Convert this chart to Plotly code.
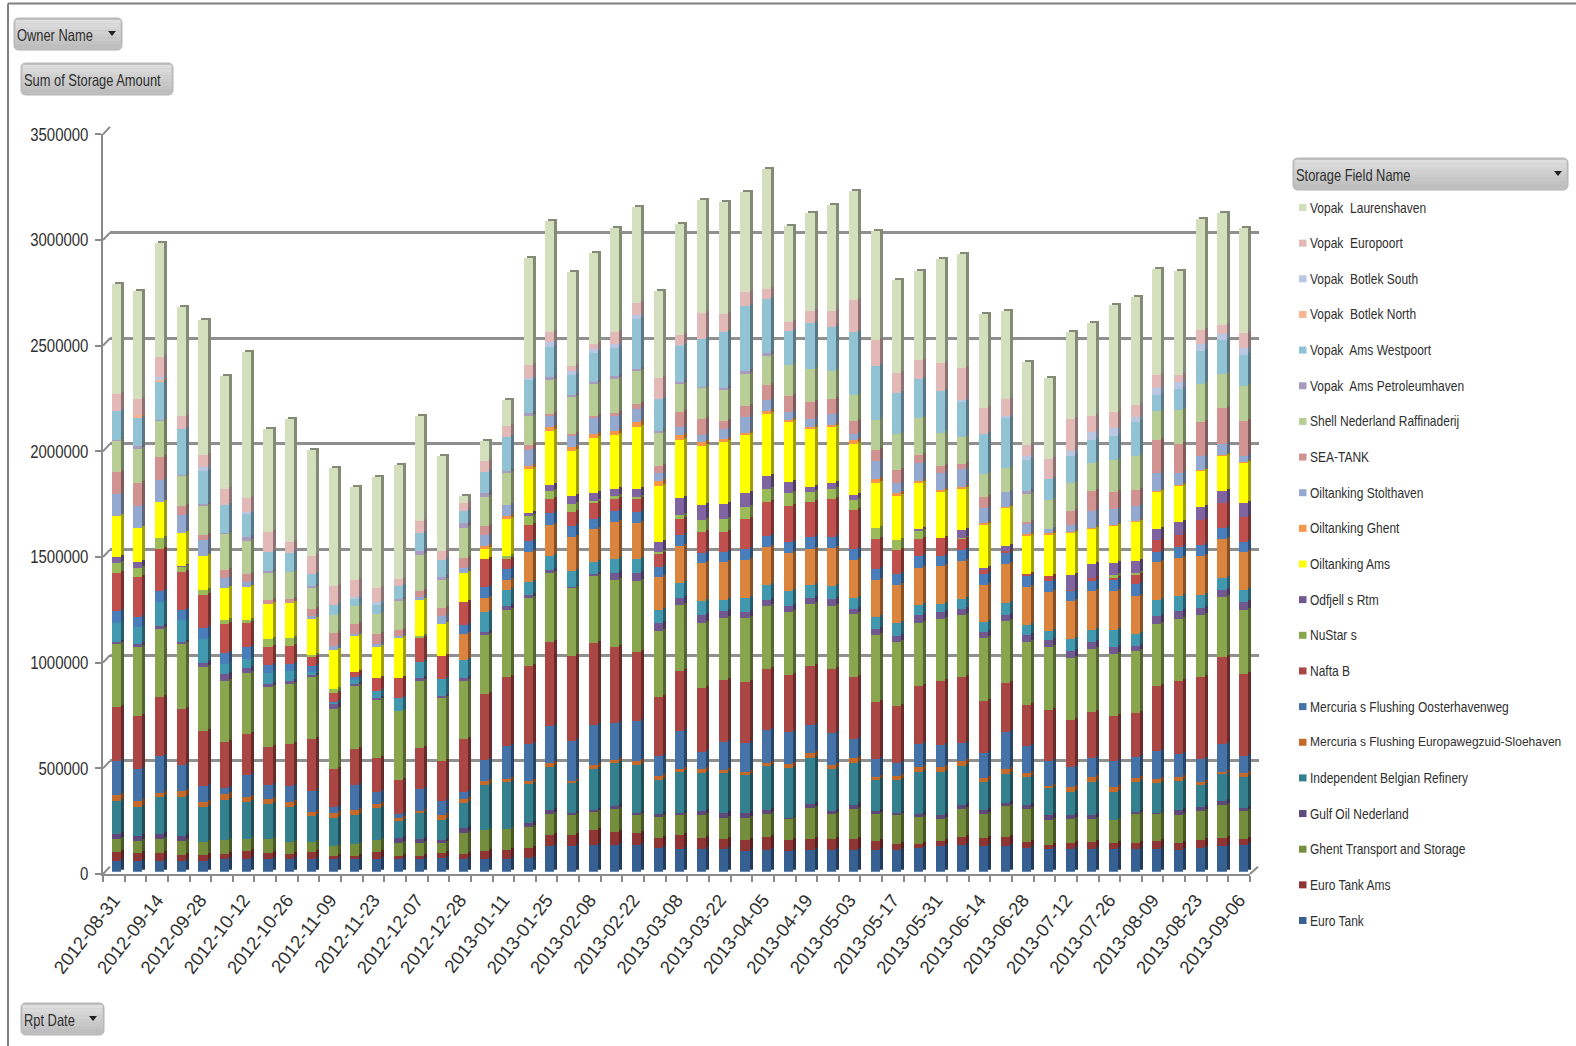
import plotly.graph_objects as go

W, H = 1576, 1046

rpt_dates = ["2012-08-31","2012-09-07","2012-09-14","2012-09-21","2012-09-28","2012-10-05","2012-10-12","2012-10-19","2012-10-26",
 "2012-11-02","2012-11-09","2012-11-16","2012-11-23","2012-11-30","2012-12-07","2012-12-14","2012-12-28","2013-01-04","2013-01-11",
 "2013-01-18","2013-01-25","2013-02-01","2013-02-08","2013-02-15","2013-02-22","2013-03-01","2013-03-08","2013-03-15","2013-03-22",
 "2013-03-28","2013-04-05","2013-04-12","2013-04-19","2013-04-26","2013-05-03","2013-05-10","2013-05-17","2013-05-24","2013-05-31",
 "2013-06-07","2013-06-14","2013-06-21","2013-06-28","2013-07-05","2013-07-12","2013-07-19","2013-07-26","2013-08-02","2013-08-09",
 "2013-08-16","2013-08-23","2013-08-30","2013-09-06"]

UNIT = 1000  # values below are read in thousands

euro_tank = [52,50,52,50,50,58,58,58,58,58,58,58,58,58,58,63,58,58,58,66,123,123,126,126,126,114,107,107,107,99,103,99,103,103,103,103,103,114,122,126,123,123,114,106,106,106,106,106,106,103,114,122,126]
euro_tank_ams = [39,39,35,28,28,28,41,32,25,36,16,16,36,16,16,24,25,41,47,47,50,50,71,63,55,44,66,54,47,50,60,50,52,50,50,43,27,17,21,36,35,39,28,21,32,36,32,28,39,35,36,39,27]
ghent_transport = [62,57,66,66,63,63,58,63,58,47,49,57,58,63,60,50,101,98,99,99,98,98,84,110,87,99,98,107,101,103,109,103,145,118,142,126,136,126,106,133,115,148,153,118,112,107,107,142,131,131,137,155,134]
gulf_oil = [25,24,25,25,0,0,0,0,0,0,0,0,0,21,19,13,21,0,0,19,21,5,11,11,11,14,9,21,21,24,21,3,19,17,21,16,11,14,17,21,19,17,21,21,19,19,0,5,3,24,17,19,13]
independent_belgian = [156,137,177,185,163,189,174,166,166,123,133,137,151,84,123,95,122,213,221,186,202,142,193,202,226,163,196,180,189,181,205,238,218,197,197,144,158,202,208,185,134,134,134,129,107,158,134,145,139,137,106,131,147]
mercuria_europaweg = [28,27,19,27,27,32,24,24,24,19,24,24,19,11,11,21,16,21,16,11,19,11,21,16,21,19,9,17,16,16,16,16,27,22,24,14,19,21,21,21,16,24,16,11,24,21,24,19,21,16,16,8,19]
mercuria_oosterhaven = [161,150,175,123,76,28,103,68,76,99,28,118,55,21,104,69,36,98,155,174,178,189,189,174,185,96,181,82,131,134,158,153,128,151,90,88,60,110,106,87,122,177,131,120,95,90,122,96,134,110,106,131,82]
nafta_b = [257,254,276,268,260,216,194,181,196,245,178,169,161,161,196,189,249,312,327,372,398,404,387,363,327,276,284,300,295,292,289,268,279,303,292,267,268,276,300,311,245,232,193,240,221,218,213,211,308,347,388,410,387]
nustar = [300,323,323,308,300,287,287,284,286,292,284,300,276,327,317,301,279,279,316,319,323,323,316,316,336,316,311,311,295,300,298,300,295,295,300,320,305,295,297,297,297,294,297,295,295,298,294,292,292,294,295,287,305]
odfjell = [9,16,14,9,19,33,24,13,14,14,27,9,9,0,11,6,8,16,19,16,16,3,13,32,39,35,32,36,32,32,28,28,28,32,24,28,27,39,32,27,27,27,35,33,32,32,32,25,35,38,32,32,36]
unlisted_teal = [90,79,115,101,114,50,43,50,49,13,5,19,32,60,79,80,87,95,73,60,68,76,54,66,66,63,71,66,52,66,71,71,63,65,52,55,63,47,39,44,47,58,47,47,58,60,79,55,76,68,63,58,55]
unlisted_orange = [0,0,0,0,0,0,0,0,0,0,0,0,0,0,0,0,123,66,47,145,145,161,158,174,170,155,178,178,178,178,178,180,170,177,181,177,181,178,177,181,178,181,178,181,178,181,185,181,181,181,185,181,181]
unlisted_blue = [54,50,50,50,52,50,55,39,30,25,3,16,0,0,0,0,43,49,54,52,55,52,47,52,52,47,50,50,50,52,54,52,55,55,52,50,50,54,50,52,52,52,50,54,50,50,50,54,50,52,49,52,50]
unlisted_red = [181,189,202,178,155,136,115,84,87,43,39,21,63,95,110,110,110,133,47,74,68,66,76,63,66,63,79,99,95,140,159,170,166,178,185,142,112,79,84,54,19,11,11,21,5,13,13,49,55,58,122,118,118]
unlisted_green = [47,44,52,24,24,19,13,39,39,13,21,0,0,0,13,0,0,0,16,43,39,39,8,8,8,11,19,55,58,57,63,62,50,50,47,52,50,44,0,5,0,0,0,0,0,0,11,6,0,0,0,0,0]
unlisted_purple = [28,27,0,3,0,0,0,0,0,0,0,0,0,0,0,0,0,0,0,13,27,35,39,35,35,44,76,74,73,69,62,52,24,27,24,0,0,5,0,35,8,25,0,0,71,66,60,55,50,63,60,58,66]
oiltanking_ams = [193,161,169,158,164,155,156,166,163,169,185,172,145,189,169,153,137,47,178,210,257,215,260,254,292,264,279,276,295,273,294,281,276,262,241,216,210,216,218,197,208,181,181,200,200,170,174,189,178,170,174,170,189]
oiltanking_ghent = [0,0,0,0,0,0,0,0,0,0,0,0,0,0,0,0,0,16,8,16,16,16,19,19,24,24,21,21,11,11,14,11,8,14,19,16,14,11,8,9,5,3,8,5,3,3,3,3,3,3,3,3,3]
oiltanking_stolthaven = [104,104,103,84,73,47,28,0,0,13,16,9,16,11,13,35,21,49,55,71,55,55,79,71,63,39,39,32,47,73,49,39,36,52,28,84,44,87,79,85,71,71,49,19,32,79,79,68,87,55,66,52,28]
sea_tank = [106,110,107,44,27,38,36,19,21,32,63,47,47,28,27,39,47,43,0,24,8,8,5,16,24,32,71,74,41,54,74,74,82,71,60,55,63,36,35,25,52,0,8,0,68,95,79,79,153,137,161,169,166]
shell_nederland = [147,163,174,142,137,170,156,126,126,106,87,85,95,139,174,131,142,137,150,140,164,174,153,161,155,158,134,150,148,155,134,147,153,131,125,139,170,178,158,125,110,114,137,139,131,131,153,161,139,163,177,161,166]
vopak_petroleumhaven = [6,8,3,3,6,3,17,13,0,5,0,0,0,8,16,16,24,21,11,13,9,11,9,13,11,8,8,5,9,8,13,0,0,0,0,0,0,0,0,0,0,0,8,0,0,0,0,0,0,0,0,0,0]
vopak_westpoort = [134,139,181,218,156,134,114,88,90,58,47,35,39,58,87,82,60,98,161,158,145,95,137,134,234,153,170,224,265,312,259,161,221,205,297,256,193,180,197,170,188,237,150,98,126,109,112,159,74,98,155,158,147]
vopak_botlek_north = [0,9,8,0,0,0,0,0,0,0,0,0,0,0,0,0,0,0,0,0,0,0,0,0,0,0,0,0,0,0,0,0,0,0,0,0,0,0,0,0,0,0,0,0,0,0,0,0,0,0,0,0,0]
vopak_botlek_south = [0,0,13,0,19,0,8,0,0,0,0,9,16,0,0,0,0,0,0,8,21,16,16,16,19,0,3,0,0,0,0,0,0,0,0,0,0,0,0,8,0,8,16,0,27,39,38,24,35,32,36,32,35]
vopak_europoort = [79,76,95,63,60,76,63,95,54,84,90,79,68,36,55,39,35,52,52,63,50,27,24,60,57,99,50,126,85,63,47,41,57,77,153,126,95,92,131,147,123,79,55,95,150,73,73,58,60,36,66,41,68]
vopak_laurenshaven = [522,513,540,513,636,532,694,486,578,500,557,442,524,537,497,450,32,95,123,505,524,443,431,489,458,410,525,533,529,473,565,458,461,502,514,513,442,423,492,544,445,418,391,383,413,442,508,508,502,489,525,532,497]

# name (None = stacked in the chart but absent from its legend), values, colour; bottom of stack first
series = [
 ("Euro Tank", euro_tank, "#376092"),
 ("Euro Tank Ams", euro_tank_ams, "#8F3534"),
 ("Ghent Transport and Storage", ghent_transport, "#758E3D"),
 ("Gulf Oil Nederland", gulf_oil, "#5F497A"),
 ("Independent Belgian Refinery", independent_belgian, "#35808F"),
 ("Mercuria s Flushing Europawegzuid-Sloehaven", mercuria_europaweg, "#C66A2B"),
 ("Mercuria s Flushing Oosterhavenweg", mercuria_oosterhaven, "#4572A7"),
 ("Nafta B", nafta_b, "#AA4643"),
 ("NuStar s", nustar, "#89A54E"),
 ("Odfjell s Rtm", odfjell, "#71588F"),
 (None, unlisted_teal, "#4198AF"),
 (None, unlisted_orange, "#DB843D"),
 (None, unlisted_blue, "#4A7EBB"),
 (None, unlisted_red, "#C0504D"),
 (None, unlisted_green, "#9BBB59"),
 (None, unlisted_purple, "#8064A2"),
 ("Oiltanking Ams", oiltanking_ams, "#FFFF00"),
 ("Oiltanking Ghent", oiltanking_ghent, "#F79646"),
 ("Oiltanking Stolthaven", oiltanking_stolthaven, "#93A9CF"),
 ("SEA-TANK", sea_tank, "#D19392"),
 ("Shell Nederland Raffinaderij", shell_nederland, "#B9CD96"),
 ("Vopak  Ams Petroleumhaven", vopak_petroleumhaven, "#A99BBD"),
 ("Vopak  Ams Westpoort", vopak_westpoort, "#91C3D5"),
 ("Vopak  Botlek North", vopak_botlek_north, "#F9B590"),
 ("Vopak  Botlek South", vopak_botlek_south, "#B9C7E2"),
 ("Vopak  Europoort", vopak_europoort, "#E3B9B8"),
 ("Vopak  Laurenshaven", vopak_laurenshaven, "#D4E0BD"),
]

y_ticks = [0, 500000, 1000000, 1500000, 2000000, 2500000, 3000000, 3500000]
FONT = "Liberation Sans"
TEXT = "#2f2f2f"
AXIS = "#8a8a8a"


def fx(x): return x / W
def fy(y): return 1 - y / H
def dark(c, f=0.62):
    return "#%02x%02x%02x" % tuple(int(int(c[i:i+2], 16) * f) for i in (1, 3, 5))


fig = go.Figure()
totals = [sum(s[1][i] for s in series) * UNIT for i in range(len(rpt_dates))]
# subplot 1 carries the visible axes, subplot 2 the back-wall grid
for n in ("", "2"):
    fig.add_trace(go.Scatter(x=rpt_dates, y=totals, mode="none", hoverinfo="skip", showlegend=False,
                             xaxis="x" + n, yaxis="y" + n))
# subplot 3: side/top faces, subplot 4: front faces
for name, vals, col in series:
    fig.add_trace(go.Bar(x=rpt_dates, y=[v * UNIT for v in vals], marker=dict(color=dark(col), line_width=0),
                         hoverinfo="skip", showlegend=False, xaxis="x3", yaxis="y3"))
for k, (name, vals, col) in enumerate(series):
    fig.add_trace(go.Bar(x=rpt_dates, y=[v * UNIT for v in vals], marker=dict(color=col, line_width=0),
                         name=name or f"Unlisted {k}", showlegend=False, xaxis="x4", yaxis="y4"))

cat_range = [-0.5, len(rpt_dates) - 0.5]
Y_RANGE = [0, 3500000]
tick_text = [d if i % 2 == 0 else "" for i, d in enumerate(rpt_dates)]
hidden = dict(visible=False, type="category", categoryorder="array", categoryarray=rpt_dates, range=cat_range)
fig.update_layout(
    width=W, height=H, margin=dict(l=0, r=0, t=0, b=0, autoexpand=False), paper_bgcolor="white", plot_bgcolor="rgba(0,0,0,0)",
    barmode="stack", bargap=0.58, showlegend=False,
    font=dict(family=FONT, size=18, color=TEXT),
    xaxis=dict(domain=[fx(103), fx(1250)], anchor="y", type="category", categoryorder="array", categoryarray=rpt_dates,
               range=cat_range, tickmode="array", tickvals=rpt_dates, ticktext=tick_text, tickangle=-52,
               tickson="boundaries", ticks="outside", ticklen=6, tickwidth=2, tickcolor=AXIS, showline=True,
               linecolor=AXIS, linewidth=2, showgrid=False, ticklabelstandoff=6,
               tickfont=dict(family="Liberation Sans", size=18.5, color=TEXT)),
    yaxis=dict(domain=[fy(874), fy(134.3)], anchor="x", range=Y_RANGE, tickmode="array", tickvals=y_ticks,
               ticktext=[str(v) for v in y_ticks], ticks="outside", ticklen=6, tickwidth=2, tickcolor=AXIS, showline=True,
               linecolor=AXIS, linewidth=2, showgrid=False, zeroline=False, ticklabelstandoff=3,
               tickfont=dict(size=18, color=TEXT)),
    xaxis2=dict(domain=[fx(110), fx(1259)], anchor="y2", **hidden),
    yaxis2=dict(domain=[fy(866.7), fy(126.7)], anchor="x2", range=Y_RANGE, tickmode="array", tickvals=y_ticks,
                showticklabels=False, ticks="", showline=False, showgrid=True, gridcolor="#8f8f8f", gridwidth=2.5, zeroline=False),
    xaxis3=dict(domain=[fx(108.4), fx(1257.5)], anchor="y3", **hidden),
    yaxis3=dict(domain=[fy(869.7), fy(130)], anchor="x3", range=Y_RANGE, visible=False),
    xaxis4=dict(domain=[fx(105.4), fx(1254.5)], anchor="y4", **hidden),
    yaxis4=dict(domain=[fy(871.7), fy(132)], anchor="x4", range=Y_RANGE, visible=False),
)

shapes, notes = [], []


def rect(x0, y0, x1, y1, fill, line=None):
    r = 5
    path = (f"M {fx(x0 + r)} {fy(y0)} L {fx(x1 - r)} {fy(y0)} Q {fx(x1)} {fy(y0)} {fx(x1)} {fy(y0 + r)} "
            f"L {fx(x1)} {fy(y1 - r)} Q {fx(x1)} {fy(y1)} {fx(x1 - r)} {fy(y1)} L {fx(x0 + r)} {fy(y1)} "
            f"Q {fx(x0)} {fy(y1)} {fx(x0)} {fy(y1 - r)} L {fx(x0)} {fy(y0 + r)} Q {fx(x0)} {fy(y0)} {fx(x0 + r)} {fy(y0)} Z")
    shapes.append(dict(type="path", xref="paper", yref="paper", path=path, fillcolor=fill,
                       line=dict(color=line or fill, width=1)))


def label(x, y, text, size=16, color=TEXT):
    notes.append(dict(xref="paper", yref="paper", x=fx(x), y=fy(y), text=text, showarrow=False, xanchor="left",
                      yanchor="middle", font=dict(family=FONT, size=size, color=color)))


def button(x0, y0, x1, y1, text, tx, arrow=None):
    rect(x0, y0, x1, y1, "#c0c0c0", "#b4b4b4")
    # vertical shading in strips, lighter at the top
    n = 8
    for i in range(n):
        c = 222 - int(i * 32 / (n - 1))
        ya = y0 + 2 + i * (y1 - y0 - 4) / n
        yb = ya + (y1 - y0 - 4) / n
        shapes.append(dict(type="rect", xref="paper", yref="paper", x0=fx(x0 + 1.5), x1=fx(x1 - 1.5), y0=fy(ya), y1=fy(yb),
                           fillcolor=f"rgb({c},{c},{c})", line_width=0))
    label(tx, (y0 + y1) / 2 + 1, text, size=16.5)
    if arrow:
        ay = (y0 + y1) / 2 - 1
        shapes.append(dict(type="path", xref="paper", yref="paper", line_width=0, fillcolor="#222222",
                           path=f"M {fx(arrow - 4)} {fy(ay - 2)} L {fx(arrow + 4)} {fy(ay - 2)} L {fx(arrow)} {fy(ay + 3)} Z"))


button(14, 18, 122, 50, "Owner Name", 15, 112)
button(21, 63, 173, 95, "Sum of Storage Amount", 22)
button(21, 1003, 104, 1035, "Rpt Date", 22, 93)
button(1293, 158, 1568, 190, "Storage Field Name", 1294, 1558)

# picture frame
shapes.append(dict(type="line", xref="paper", yref="paper", x0=fx(8), x1=1, y0=fy(3.5), y1=fy(3.5), line=dict(color="#808080", width=2)))
shapes.append(dict(type="line", xref="paper", yref="paper", x0=fx(8), x1=fx(8), y0=fy(3.5), y1=0, line=dict(color="#808080", width=2)))

# perspective connectors between the front axes and the back wall
for v in y_ticks:
    yy = 874 - (874 - 134.3) * v / Y_RANGE[1]
    shapes.append(dict(type="line", xref="paper", yref="paper", x0=fx(103), x1=fx(110), y0=fy(yy), y1=fy(yy - 7.4),
                       line=dict(color=AXIS, width=2)))
shapes.append(dict(type="line", xref="paper", yref="paper", x0=fx(1250), x1=fx(1258), y0=fy(874), y1=fy(866.7),
                   line=dict(color=AXIS, width=2)))

# legend, top to bottom
listed = [s for s in reversed(series) if s[0]]
for i, (name, _, col) in enumerate(listed):
    yc = 207.5 + i * 35.65
    shapes.append(dict(type="rect", xref="paper", yref="paper", x0=fx(1299), x1=fx(1306.5), y0=fy(yc - 3.5), y1=fy(yc + 3.5),
                       fillcolor=col, line_width=0))
    label(1308, yc, name, size=12.4 if len(name) > 40 else 14.5)

fig.update_layout(shapes=shapes, annotations=notes)

# The reference text is a narrow face; squeeze the real text horizontally, keeping its left or right edge.
squeeze = """
document.body.style.margin='0';document.body.style.overflow='hidden';
function narrow(t,f){var w=t.getComputedTextLength();t.setAttribute('lengthAdjust','spacingAndGlyphs');t.setAttribute('textLength',w*f);}
document.querySelectorAll('text.annotation-text').forEach(function(t){
  var b=t.getBBox();var s=parseFloat(t.style.fontSize);t.setAttribute('text-anchor','start');t.setAttribute('x',b.x);
  narrow(t,s>16?0.78:12/s);});
document.querySelectorAll('.ytick text').forEach(function(t){narrow(t,0.83);});
"""
fig.write_html("out.html", post_script=squeeze, config={"displayModeBar": False})
